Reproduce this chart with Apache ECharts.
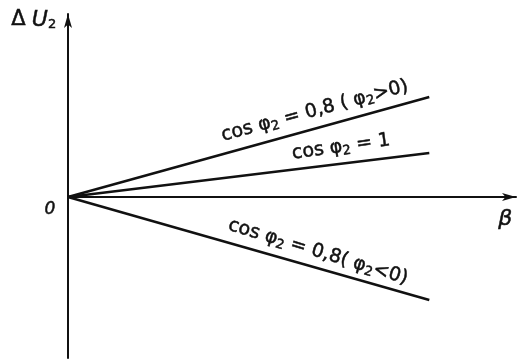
<!DOCTYPE html>
<html>
<head>
<meta charset="utf-8">
<script src="https://cdn.jsdelivr.net/npm/echarts@6/dist/echarts.min.js"></script>
<style>html,body{margin:0;padding:0;background:#fff}#c{width:518px;height:360px}</style>
</head>
<body>
<div id="c"></div>
<script>
const beta = [0, 1];
const cos08Pos = [0, 1.00];
const cos1 = [0, 0.44];
const cos08Neg = [0, -1.03];
const labelTexts = ['cos φ{s|2} = 0,8 ( φ{s|2}>0)', 'cos φ{s|2} = 1', 'cos φ{s|2} = 0,8( φ{s|2}<0)'];
const labelAnchors = [[0.683, 0.86], [0.756, 0.50], [0.692, -0.55]];
const labelAngles = [15, 8, -17];
const axisNames = ['{d|Δ} {u|U}{s|2}', 'β', '0'];
const axisNameAnchors = [[-0.095, 1.77], [1.21, -0.22], [-0.05, -0.13]];

const ink = '#111';
const chart = echarts.init(document.getElementById('c'));
function pairs(ys){ return beta.map((b,i)=>[b, ys[i]]); }
const lineSeries = [cos08Pos, cos1, cos08Neg].map(ys => ({
  type: 'line', data: pairs(ys), symbol: 'none', silent: true,
  lineStyle: {color: ink, width: 2.5}
}));
chart.setOption({
  animation: false,
  backgroundColor: '#fff',
  grid: {left: 68, right: 2, top: 14, bottom: 2},
  xAxis: {type: 'value', min: 0, max: 1.24,
    splitLine: {show: false}, axisTick: {show: false}, axisLabel: {show: false},
    axisLine: {show: true, symbol: ['none', 'arrow'], symbolSize: [6, 14], lineStyle: {color: ink, width: 2}}},
  yAxis: {type: 'value', min: -1.61, max: 1.83,
    splitLine: {show: false}, axisTick: {show: false}, axisLabel: {show: false},
    axisLine: {show: true, symbol: ['none', 'arrow'], symbolSize: [6, 14], lineStyle: {color: ink, width: 2}}},
  series: lineSeries
});
const font = '"DejaVu Sans", sans-serif';
const rich = {
  s: {fontSize: 13, fontFamily: 'DejaVu Sans', fill: ink, padding: [9, 0, 0, 0]},
  d: {fontSize: 21, fontFamily: 'DejaVu Sans', fill: ink},
  u: {fontSize: 22, fontStyle: 'italic', fontFamily: 'DejaVu Sans', fill: ink}
};
const g = [];
labelTexts.forEach((t, i) => {
  const p = chart.convertToPixel({gridIndex: 0}, labelAnchors[i]);
  g.push({type: 'text', x: p[0], y: p[1], rotation: labelAngles[i] * Math.PI / 180,
    style: {text: t, fill: ink, stroke: ink, lineWidth: 0.5, font: '19px ' + font, rich: rich,
      align: 'center', verticalAlign: 'middle'}});
});
axisNames.forEach((t, i) => {
  const p = chart.convertToPixel({gridIndex: 0}, axisNameAnchors[i]);
  g.push({type: 'text', x: p[0], y: p[1],
    style: {text: t, fill: ink, stroke: ink, lineWidth: 0.5, rich: rich,
      font: (i === 2 ? 'italic 17px ' : i === 1 ? 'italic 22px ' : '20px ') + font, align: 'center', verticalAlign: 'middle'}});
});
chart.setOption({graphic: g});
</script>
</body>
</html>
